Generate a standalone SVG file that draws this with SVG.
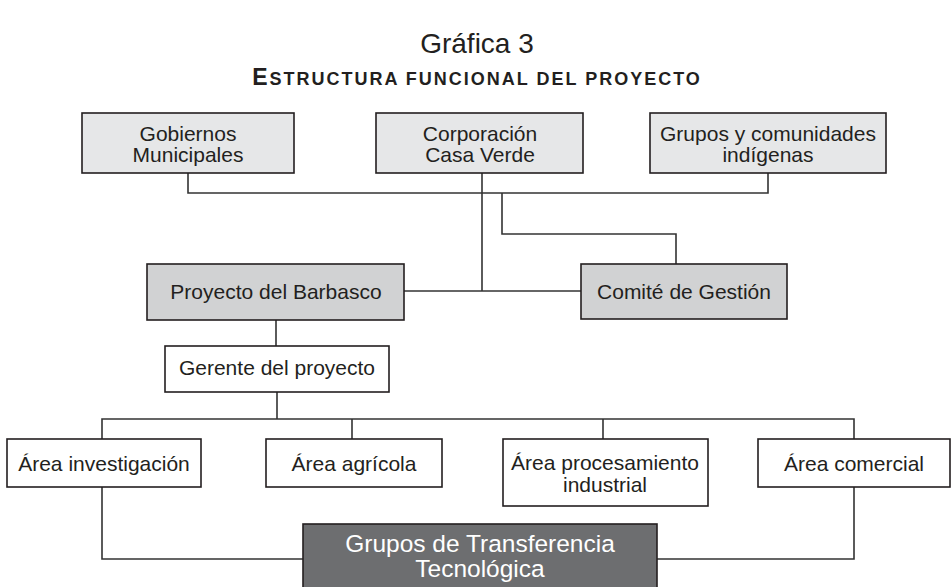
<svg xmlns="http://www.w3.org/2000/svg" width="952" height="587" viewBox="0 0 952 587">
<style>
  text { font-family: "Liberation Sans", Arial, Helvetica, sans-serif; fill: #231f20; }
  .lbl { font-size: 21px; text-anchor: middle; }
  .box { stroke: #231f20; stroke-width: 1.6; }
  .light { fill: #e6e7e8; }
  .mid { fill: #d1d2d3; }
  .white { fill: #ffffff; }
  .dark { fill: #6d6e70; }
  .conn { fill: none; stroke: #333333; stroke-width: 1.6; }
  .big { font-size: 24.5px; text-anchor: middle; fill: #ffffff; }
</style>
<rect width="952" height="587" fill="#ffffff"/>
<g id="title">
  <text x="477" y="53" style="font-size:28px;text-anchor:middle">Gráfica 3</text>
  <text x="477" y="85" style="font-weight:bold;text-anchor:middle;font-size:18px;letter-spacing:2px"><tspan style="font-size:23px">E</tspan>STRUCTURA FUNCIONAL DEL PROYECTO</text>
</g>
<g id="connectors">
  <polyline class="conn" points="188,173 188,193 768,193 768,173"/>
  <line class="conn" x1="482" y1="173" x2="482" y2="291"/>
  <line class="conn" x1="404" y1="291" x2="581" y2="291"/>
  <polyline class="conn" points="502,193 502,234 676,234 676,264"/>
  <line class="conn" x1="276" y1="320" x2="276" y2="346"/>
  <line class="conn" x1="277" y1="392" x2="277" y2="419"/>
  <polyline class="conn" points="102,439 102,419 854,419 854,439"/>
  <line class="conn" x1="352" y1="419" x2="352" y2="439"/>
  <line class="conn" x1="603" y1="419" x2="603" y2="439"/>
  <polyline class="conn" points="102,487 102,559 303,559"/>
  <polyline class="conn" points="854,487 854,559 657,559"/>
</g>
<g id="gobiernos">
  <rect class="box light" x="82" y="113" width="212" height="60"/>
  <text class="lbl" x="188" y="141">Gobiernos</text>
  <text class="lbl" x="188" y="162">Municipales</text>
</g>
<g id="corporacion">
  <rect class="box light" x="376" y="113" width="207" height="60"/>
  <text class="lbl" x="480" y="141">Corporación</text>
  <text class="lbl" x="480" y="162">Casa Verde</text>
</g>
<g id="grupos-comunidades">
  <rect class="box light" x="650" y="113" width="236" height="60"/>
  <text class="lbl" x="768" y="141">Grupos y comunidades</text>
  <text class="lbl" x="768" y="162">indígenas</text>
</g>
<g id="proyecto">
  <rect class="box mid" x="147" y="264" width="257" height="56"/>
  <text class="lbl" x="276" y="299">Proyecto del Barbasco</text>
</g>
<g id="comite">
  <rect class="box mid" x="581" y="264" width="206" height="55"/>
  <text class="lbl" x="684" y="299">Comité de Gestión</text>
</g>
<g id="gerente">
  <rect class="box white" x="165" y="346" width="224" height="46"/>
  <text class="lbl" x="277" y="375">Gerente del proyecto</text>
</g>
<g id="area-investigacion">
  <rect class="box white" x="7" y="439" width="194" height="48"/>
  <text class="lbl" x="104" y="471">Área investigación</text>
</g>
<g id="area-agricola">
  <rect class="box white" x="266" y="439" width="176" height="48"/>
  <text class="lbl" x="354" y="471">Área agrícola</text>
</g>
<g id="area-procesamiento">
  <rect class="box white" x="503" y="439" width="205" height="67"/>
  <text class="lbl" x="605" y="470">Área procesamiento</text>
  <text class="lbl" x="605" y="492">industrial</text>
</g>
<g id="area-comercial">
  <rect class="box white" x="758" y="439" width="192" height="48"/>
  <text class="lbl" x="854" y="471">Área comercial</text>
</g>
<g id="grupos-transferencia">
  <rect class="box dark" x="303" y="524" width="354" height="70"/>
  <text class="big" x="480" y="552">Grupos de Transferencia</text>
  <text class="big" x="480" y="577">Tecnológica</text>
</g>
</svg>
